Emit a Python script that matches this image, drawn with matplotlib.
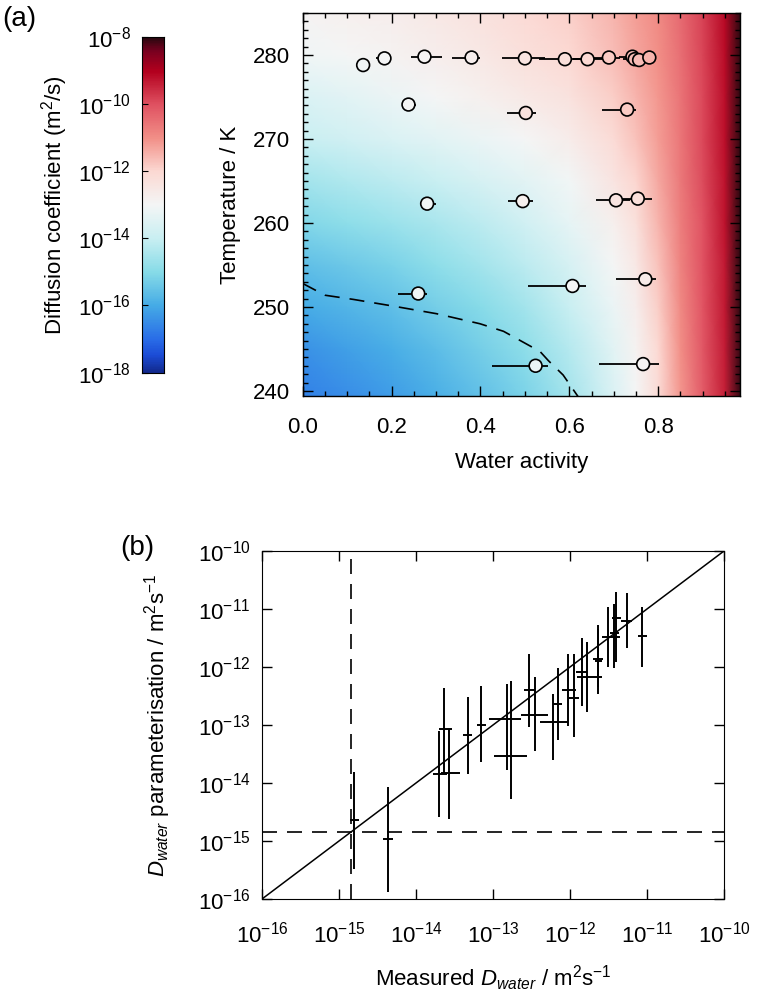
import numpy as np
import matplotlib
matplotlib.use("Agg")
import matplotlib.pyplot as plt
from matplotlib.colors import LinearSegmentedColormap
from matplotlib.ticker import MultipleLocator, FixedLocator, FuncFormatter, NullLocator

plt.rcParams['font.family'] = ['Liberation Sans', 'DejaVu Sans']
plt.rcParams['mathtext.fontset'] = 'custom'
plt.rcParams['mathtext.rm'] = 'Liberation Sans'
plt.rcParams['mathtext.it'] = 'Liberation Sans:italic'
plt.rcParams['mathtext.bf'] = 'Liberation Sans:bold'

# ---------------- Panel (a) data ----------------
# background field: log10 D
aw_grid = [0.0, 0.1, 0.2, 0.3, 0.4, 0.5, 0.6, 0.7, 0.75, 0.8, 0.85, 0.9, 0.95, 0.985]
T_grid = [239, 245, 250, 255, 260, 265, 270, 275, 280, 285]
logD_239 = [-16.7, -16.5, -16.25, -15.95, -15.6, -15.2, -14.6, -13.6, -13.0, -12.1, -11.1, -10.15, -9.4, -8.05]
logD_245 = [-16.4, -16.2, -15.95, -15.65, -15.3, -14.9, -14.3, -13.4, -12.85, -12.0, -11.0, -10.1, -9.35, -8.05]
logD_250 = [-16.0, -15.8, -15.6, -15.3, -15.0, -14.6, -14.0, -13.2, -12.7, -11.85, -10.9, -10.05, -9.3, -8.0]
logD_255 = [-15.6, -15.4, -15.2, -14.9, -14.6, -14.2, -13.7, -13.0, -12.5, -11.7, -10.8, -10.0, -9.3, -8.0]
logD_260 = [-15.1, -14.9, -14.7, -14.45, -14.2, -13.8, -13.35, -12.75, -12.25, -11.5, -10.7, -10.0, -9.25, -8.0]
logD_265 = [-14.6, -14.4, -14.2, -14.0, -13.7, -13.4, -13.05, -12.4, -11.95, -11.35, -10.65, -9.95, -9.25, -8.0]
logD_270 = [-14.0, -13.8, -13.6, -13.4, -13.2, -13.0, -12.65, -12.1, -11.7, -11.2, -10.6, -9.9, -9.2, -8.0]
logD_275 = [-13.6, -13.4, -13.2, -13.0, -12.8, -12.55, -12.3, -11.85, -11.5, -11.1, -10.55, -9.9, -9.2, -8.0]
logD_280 = [-13.1, -13.0, -12.85, -12.7, -12.5, -12.25, -12.0, -11.6, -11.3, -11.0, -10.5, -9.85, -9.15, -8.0]
logD_285 = [-12.9, -12.8, -12.7, -12.5, -12.3, -12.1, -11.9, -11.5, -11.2, -10.9, -10.4, -9.8, -9.1, -8.0]

# measurements: water activity, temperature, error bar ends, measured log D (marker fill)
meas_aw = [0.136, 0.184, 0.274, 0.380, 0.500, 0.590, 0.641, 0.689, 0.742, 0.747, 0.757, 0.780,
           0.238, 0.502, 0.730,
           0.280, 0.495, 0.705, 0.754,
           0.260, 0.607, 0.771,
           0.524, 0.766]
meas_T = [278.8, 279.6, 279.8, 279.7, 279.6, 279.5, 279.5, 279.7, 279.8, 279.5, 279.4, 279.7,
          274.1, 273.1, 273.5,
          262.3, 262.6, 262.7, 262.9,
          251.6, 252.5, 253.3,
          243.0, 243.2]
aw_lo = [0.136, 0.164, 0.244, 0.335, 0.448, 0.532, 0.609, 0.654, 0.712, 0.720, 0.745, 0.765,
         0.228, 0.459, 0.673,
         0.264, 0.463, 0.660, 0.706,
         0.215, 0.508, 0.706,
         0.425, 0.667]
aw_hi = [0.136, 0.196, 0.313, 0.399, 0.545, 0.637, 0.684, 0.714, 0.762, 0.765, 0.768, 0.795,
         0.255, 0.526, 0.751,
         0.299, 0.519, 0.736, 0.786,
         0.279, 0.637, 0.795,
         0.551, 0.802]
meas_logD = [-13.1, -13.0, -12.9, -12.7, -12.4, -12.2, -12.0, -11.8, -11.6, -11.6, -11.6, -11.5,
             -13.0, -12.3, -11.8,
             -13.1, -12.8, -12.4, -12.2,
             -13.1, -13.0, -12.6,
             -13.2, -12.9]

# homogeneous freezing line (dashed)
freeze_aw = [0.0, 0.05, 0.114, 0.204, 0.301, 0.399, 0.452, 0.534, 0.553, 0.586, 0.620]
freeze_T = [252.8, 251.4, 250.9, 250.1, 249.2, 248.0, 247.1, 244.7, 243.6, 241.9, 239.3]

# colour bar
cbar_ticks = [-18, -16, -14, -12, -10, -8]

# ---------------- Panel (b) data (log10 values) ----------------
meas_x = [-14.80, -14.37, -13.70, -13.57, -13.64, -13.33, -13.15, -12.82, -12.76, -12.53, -12.45,
          -12.22, -12.16, -12.03, -11.95, -11.85, -11.78, -11.64, -11.64, -11.51, -11.43, -11.40,
          -11.26, -11.06]
par_y = [-14.64, -14.97, -13.84, -13.83, -13.07, -13.18, -13.00, -12.89, -13.54, -12.39, -12.82,
         -12.95, -12.63, -12.39, -12.54, -12.09, -12.17, -11.86, -11.89, -11.48, -11.41, -11.16,
         -11.20, -11.47]
x_lo = [-14.86, -14.43, -13.78, -13.68, -13.70, -13.39, -13.21, -13.05, -12.99, -12.60, -12.64,
        -12.39, -12.22, -12.11, -12.01, -11.92, -11.91, -11.70, -11.68, -11.59, -11.48, -11.45,
        -11.34, -11.12]
x_hi = [-14.74, -14.30, -13.60, -13.43, -13.53, -13.27, -13.09, -12.63, -12.56, -12.45, -12.28,
        -12.02, -12.10, -11.92, -11.88, -11.78, -11.59, -11.57, -11.59, -11.35, -11.37, -11.34,
        -11.19, -11.00]
y_lo = [-15.48, -15.88, -14.59, -14.62, -13.84, -13.85, -13.64, -13.78, -14.27, -13.03, -13.44,
        -13.61, -13.26, -13.01, -13.20, -12.68, -12.78, -12.46, -12.34, -12.00, -12.01, -11.91,
        -11.67, -12.00]
y_hi = [-13.81, -14.07, -13.10, -13.07, -12.37, -12.51, -12.33, -12.30, -12.24, -11.78, -12.17,
        -12.46, -12.01, -11.78, -11.78, -11.50, -11.57, -11.28, -11.34, -10.97, -10.91, -10.70,
        -10.72, -10.97]
decades_b = [-16, -15, -14, -13, -12, -11, -10]
detect_limit = 1.45e-15

# ---------------- colormap ----------------
cmap_nodes = [(-18.0, '#122a8e'), (-17.5, '#1c4cd6'), (-17.0, '#2a6ee8'), (-16.0, '#46ace6'),
              (-15.0, '#88dce8'), (-14.0, '#c9eff2'), (-13.0, '#f4f6f6'), (-12.0, '#fcd9d3'),
              (-11.0, '#f29088'), (-10.0, '#e05262'), (-9.0, '#b3001e'), (-8.4, '#7a0020'),
              (-8.0, '#2a0810')]
cmap = LinearSegmentedColormap.from_list(
    'dcmap', [((v + 18) / 10.0, c) for v, c in cmap_nodes])

W, H = 784, 996
fig = plt.figure(figsize=(W / 100, H / 100), dpi=100)


def rect(x0, y0, x1, y1):
    return [x0 / W, 1 - y1 / H, (x1 - x0) / W, (y1 - y0) / H]


FS = 16

# ---------- panel (a) ----------
ax = fig.add_axes(rect(302.7, 13, 740, 396))
Z = np.array([logD_239, logD_245, logD_250, logD_255, logD_260, logD_265,
              logD_270, logD_275, logD_280, logD_285])
AW, TT = np.meshgrid(aw_grid, T_grid)
ax.pcolormesh(AW, TT, Z, shading='gouraud', cmap=cmap, vmin=-18, vmax=-8, rasterized=True)
ax.plot(freeze_aw, freeze_T, color='black', lw=1.2, dashes=(9, 6))
ax.hlines(meas_T, aw_lo, aw_hi, color='black', lw=1.3, zorder=3)
ax.scatter(meas_aw, meas_T, s=85, c=meas_logD, cmap=cmap, vmin=-18, vmax=-8,
           edgecolors='black', linewidths=1.2, zorder=4)
ax.set_xlim(0, 0.984)
ax.set_ylim(239.4, 285.0)
ax.xaxis.set_major_locator(MultipleLocator(0.2))
ax.xaxis.set_minor_locator(MultipleLocator(0.05))
ax.yaxis.set_major_locator(MultipleLocator(10))
ax.yaxis.set_minor_locator(MultipleLocator(1))
ax.xaxis.set_major_formatter(FuncFormatter(lambda v, p: f"{v:.1f}"))
ax.tick_params(which='both', direction='in', top=True, right=True, labelsize=FS, width=1.0)
ax.tick_params(axis='x', which='major', length=7, pad=15)
ax.tick_params(axis='y', which='major', length=7, pad=9)
ax.tick_params(which='minor', length=3.5)
ax.set_xlabel('Water activity', fontsize=FS, labelpad=10)
ax.set_ylabel('Temperature / K', fontsize=FS, labelpad=9)
for s in ax.spines.values():
    s.set_linewidth(1.0)

# ---------- colour bar ----------
cax = fig.add_axes(rect(142, 36.7, 164, 372.7))
grad = np.linspace(-18, -8, 400).reshape(-1, 1)
cax.imshow(grad, aspect='auto', origin='lower', extent=[0, 1, -18, -8], cmap=cmap,
           vmin=-18, vmax=-8)
cax.set_xticks([])
cax.set_yticks(cbar_ticks)
cax.yaxis.set_major_formatter(FuncFormatter(lambda v, p: r'$\mathdefault{10^{%d}}$' % int(round(v))))
cax.tick_params(axis='y', direction='in', left=True, right=False, length=4, labelsize=FS, pad=8)
cax.set_ylabel(r'Diffusion coefficient (m$^{2}$/s)', fontsize=FS, labelpad=6)

fig.text(2 / W, 1 - 19 / H, '(a)', fontsize=20, va='center', ha='left')

# ---------- panel (b) ----------
bx = fig.add_axes(rect(262, 551, 724, 899))
mx = 10.0 ** np.array(meas_x)
py = 10.0 ** np.array(par_y)
xerr = [mx - 10.0 ** np.array(x_lo), 10.0 ** np.array(x_hi) - mx]
yerr = [py - 10.0 ** np.array(y_lo), 10.0 ** np.array(y_hi) - py]
bx.errorbar(mx, py, xerr=xerr, yerr=yerr, fmt='none', ecolor='black', elinewidth=1.4, capsize=0)
bx.plot([1e-16, 1e-10], [1e-16, 1e-10], color='black', lw=1.1)
bx.axvline(detect_limit, color='black', lw=1.2, dashes=(9, 6))
bx.axhline(detect_limit, color='black', lw=1.2, dashes=(9, 6))
bx.set_xscale('log')
bx.set_yscale('log')
bx.set_xlim(1e-16, 1e-10)
bx.set_ylim(1e-16, 1e-10)
dec_vals = [10.0 ** d for d in decades_b]
fmt_b = FuncFormatter(lambda v, p: r'$\mathdefault{10^{%d}}$' % int(round(np.log10(v))))
for a in (bx.xaxis, bx.yaxis):
    a.set_major_locator(FixedLocator(dec_vals))
    a.set_minor_locator(NullLocator())
    a.set_major_formatter(fmt_b)
bx.tick_params(which='major', direction='in', top=True, right=True, length=7,
               labelsize=FS, width=1.0)
bx.tick_params(axis='x', pad=16)
bx.tick_params(axis='y', pad=8)
bx.set_xlabel(r'Measured $D_{water}$ / m$^{2}$s$^{-1}$', fontsize=FS, labelpad=12)
bx.set_ylabel(r'$D_{water}$ parameterisation / m$^{2}$s$^{-1}$', fontsize=FS, labelpad=18)
fig.text(120 / W, 1 - 548 / H, '(b)', fontsize=20, va='center', ha='left')

fig.savefig('out.png', dpi=100)
